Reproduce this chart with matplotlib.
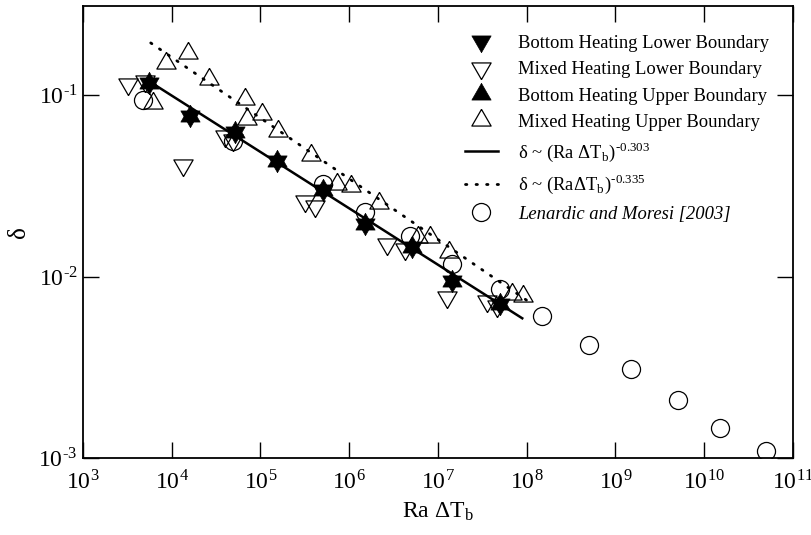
import matplotlib
matplotlib.use('Agg')
from matplotlib import pyplot as plt

plt.rcParams['font.family'] = ['Liberation Serif', 'DejaVu Serif']
plt.rcParams['mathtext.fontset'] = 'stix'
plt.rcParams['axes.unicode_minus'] = False

# bottom heating (lower and upper boundary sit on top of each other -> star)
bh_x = [5.5e3, 1.6e4, 5.2e4, 1.55e5, 5.1e5, 1.5e6, 5.1e6, 1.45e7, 5.0e7]
bh_lower_y = [0.117, 0.0766, 0.0624, 0.0436, 0.0301, 0.0196, 0.01455, 0.00944, 0.00705]
bh_upper_y = [0.117, 0.0766, 0.0624, 0.0436, 0.0301, 0.0196, 0.01455, 0.00944, 0.00705]

# mixed heating lower boundary
mh_lower_x = [3.2e3, 5.0e3, 1.34e4, 4.0e4, 4.9e4, 3.16e5, 4.1e5, 2.66e6, 4.2e6, 1.26e7, 3.6e7, 4.6e7]
mh_lower_y = [0.115, 0.12, 0.041, 0.0593, 0.0564, 0.0262, 0.0246, 0.0151, 0.0142, 0.0077, 0.0073, 0.00687]

# mixed heating upper boundary
mh_upper_x = [6.1e3, 8.6e3, 1.52e4, 2.6e4, 6.65e4, 7.0e4, 1.04e5, 1.57e5, 3.7e5, 7.2e5,
              1.04e6, 2.15e6, 5.9e6, 8.1e6, 1.33e7, 6.8e7, 9.0e7]
mh_upper_y = [0.0904, 0.150, 0.171, 0.123, 0.095, 0.0736, 0.0785, 0.0632, 0.0466, 0.0325,
              0.0317, 0.0255, 0.01655, 0.01655, 0.01368, 0.0080, 0.0078]

# Lenardic and Moresi [2003]
lm_x = [4.7e3, 4.9e4, 5.0e5, 1.5e6, 4.8e6, 1.44e7, 5.0e7, 1.5e8, 5.0e8, 1.5e9, 5.0e9, 1.5e10, 5.0e10]
lm_y = [0.0937, 0.0556, 0.0325, 0.0228, 0.01675, 0.0117, 0.00853, 0.0061, 0.0042, 0.0031,
        0.0021, 0.00147, 0.0011]

# power law fits (end points)
fit1_x = [5.5e3, 8.9e7]
fit1_y = [0.1197, 0.00589]
fit2_x = [5.8e3, 1.0e8]
fit2_y = [0.194, 0.0074]

xticks = [1e3, 1e4, 1e5, 1e6, 1e7, 1e8, 1e9, 1e10, 1e11]
xticklabels = ['10$^{\\mathregular{%d}}$' % e for e in range(3, 12)]
yticks = [1e-3, 1e-2, 1e-1]
yticklabels = ['10$^{\\mathregular{\u2010%d}}$' % e for e in (3, 2, 1)]

# equilateral triangles centred on their centroid, so up+down gives a star
tri_up = [(0, 1), (-0.866, -0.5), (0.866, -0.5), (0, 1)]
tri_down = [(0, -1), (-0.866, 0.5), (0.866, 0.5), (0, -1)]

fig = plt.figure(figsize=(8.12, 5.35), dpi=100)
ax = fig.add_axes([0.1022, 0.1439, 0.8744, 0.8449])

ms = 16
ax.plot(bh_x, bh_lower_y, ls='none', marker=tri_down, ms=ms, color='black', mec='black', mew=0.5,
        label='Bottom Heating Lower Boundary')
ax.plot(mh_lower_x, mh_lower_y, ls='none', marker=tri_down, ms=ms, mfc='none', mec='black', mew=0.9,
        label='Mixed Heating Lower Boundary')
ax.plot(bh_x, bh_upper_y, ls='none', marker=tri_up, ms=ms, color='black', mec='black', mew=0.5,
        label='Bottom Heating Upper Boundary')
ax.plot(mh_upper_x, mh_upper_y, ls='none', marker=tri_up, ms=ms, mfc='none', mec='black', mew=0.9,
        label='Mixed Heating Upper Boundary')
ax.plot(fit1_x, fit1_y, '-', color='black', lw=1.8,
        label='δ ~ (Ra ΔT$_\\mathregular{b}$)$^\\mathregular{\u20100.303}$')
ax.plot(fit2_x, fit2_y, color='black', lw=2, linestyle=(0, (0.5, 3.3)), dash_capstyle='round',
        label='δ ~ (RaΔT$_\\mathregular{b}$)$^\\mathregular{\u20100.335}$')
ax.plot(lm_x, lm_y, 'o', ms=13, mfc='none', mec='black', mew=0.9, label='Lenardic and Moresi [2003]')

ax.set_xscale('log')
ax.set_yscale('log')
ax.set_xlim(1e3, 1e11)
ax.set_ylim(1e-3, 0.31)
ax.set_xticks(xticks)
ax.set_xticklabels(xticklabels)
ax.set_yticks(yticks)
ax.set_yticklabels(yticklabels)
ax.minorticks_off()
ax.tick_params(which='major', direction='in', length=11.5, width=1, labelsize=17,
               top=True, right=True)
ax.tick_params(axis='x', pad=9)
ax.tick_params(axis='y', pad=4)
for s in ax.spines.values():
    s.set_linewidth(1.3)

ax.set_xlabel('Ra ΔT$_\\mathregular{b}$', fontsize=17, labelpad=4)
ax.set_ylabel('δ', fontsize=18, labelpad=6)

leg = ax.legend(loc='upper right', bbox_to_anchor=(0.985, 0.965), frameon=False, fontsize=13.4,
                handlelength=1.75, handletextpad=1.1, labelspacing=0.5, borderaxespad=0.3)
leg.get_texts()[-1].set_fontstyle('italic')

plt.savefig('out.png', dpi=100)
